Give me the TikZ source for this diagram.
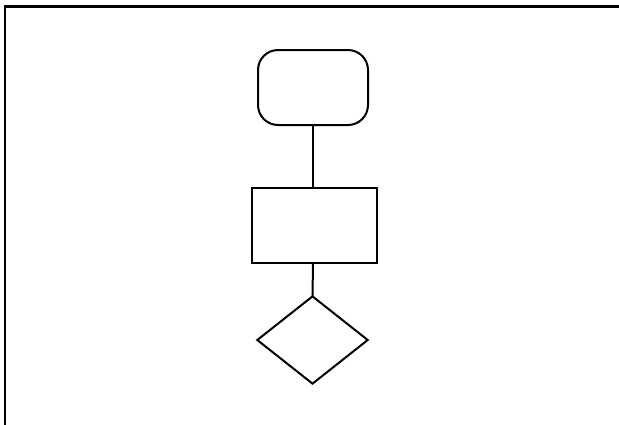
\documentclass[tikz,border=0pt]{standalone}
\usetikzlibrary{shapes.geometric}
\begin{document}
\begin{tikzpicture}[x=1pt,y=-1pt,
  shapebox/.style={draw=black,line width=2pt,inner sep=0pt,outer sep=0pt},
  link/.style={draw=black,line width=2pt}]
\useasboundingbox (0,0) rectangle (619,424);
\clip (0,0) rectangle (619,424);
\draw[line width=2.7pt] (5,500) -- (5,6.5) -- (700,6.5);
\node[shapebox,rounded corners=20pt,minimum width=110pt,minimum height=75pt] (start) at (313,87.5) {};
\node[shapebox,minimum width=124.7pt,minimum height=75pt] (proc) at (314.3,225.5) {};
\node[shapebox,diamond,minimum width=110.4pt,minimum height=87.3pt] (dec) at (312.5,340) {};
\draw[link] (start.south) -- (start.south |- proc.north);
\draw[link] (proc.south -| start.south) -- (dec.north);
\end{tikzpicture}
\end{document}
